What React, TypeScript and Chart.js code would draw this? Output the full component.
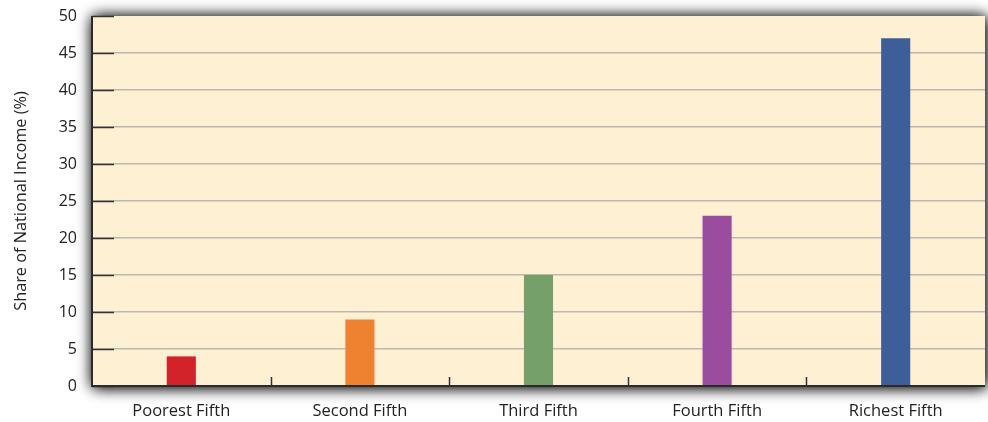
import React, { useEffect, useRef } from "react";
import { Chart, registerables } from "chart.js";

Chart.register(...registerables);

const categories = ["Poorest Fifth", "Second Fifth", "Third Fifth", "Fourth Fifth", "Richest Fifth"];
const shares = [4, 9, 15, 23, 47];
const barColors = ["#D2232A", "#EF8231", "#76A06A", "#9A4C9F", "#3D5E98"];
const yTitle = "Share of National Income (%)";

const FONT = "'Open Sans', sans-serif";

const framePlugin = {
  id: "frame",
  beforeDraw(chart: any) {
    const { ctx, chartArea: a } = chart;
    ctx.save();
    ctx.shadowColor = "rgba(0,0,0,0.8)";
    ctx.shadowBlur = 14;
    ctx.shadowOffsetX = 1;
    ctx.shadowOffsetY = 1;
    ctx.fillStyle = "#FEF0D3";
    ctx.fillRect(a.left, a.top, a.right - a.left, a.bottom - a.top);
    ctx.fillRect(a.left, a.top, a.right - a.left, a.bottom - a.top);
    ctx.restore();
  },
  afterDatasetsDraw(chart: any) {
    const { ctx, chartArea: a, scales } = chart;
    const y = scales.y;
    ctx.save();
    ctx.strokeStyle = "#333";
    ctx.lineWidth = 1.5;
    y.ticks.forEach((t: any) => {
      const py = Math.round(y.getPixelForValue(t.value)) + 0.5;
      ctx.beginPath();
      ctx.moveTo(a.left, py);
      ctx.lineTo(a.left + 22, py);
      ctx.stroke();
    });
    const n = categories.length;
    const w = (a.right - a.left) / n;
    for (let i = 1; i < n; i++) {
      const px = Math.round(a.left + w * i) + 0.5;
      ctx.beginPath();
      ctx.moveTo(px, a.bottom);
      ctx.lineTo(px, a.bottom - 9);
      ctx.stroke();
    }
    ctx.lineWidth = 2;
    ctx.strokeStyle = "#2a2a2a";
    ctx.beginPath();
    ctx.moveTo(a.left, a.top);
    ctx.lineTo(a.left, a.bottom);
    ctx.lineTo(a.right, a.bottom);
    ctx.stroke();
    ctx.restore();
  },
};

export default function App() {
  const ref = useRef<HTMLCanvasElement>(null);
  useEffect(() => {
    if (!ref.current) return;
    const chart = new Chart(ref.current, {
      type: "bar",
      data: {
        labels: categories,
        datasets: [
          {
            data: shares,
            backgroundColor: barColors,
            categoryPercentage: 1,
            barPercentage: 0.163,
          },
        ],
      },
      options: {
        animation: false,
        responsive: false,
        maintainAspectRatio: false,
        layout: { padding: { left: 0, top: 16, right: 3, bottom: 0 } },
        plugins: { legend: { display: false }, tooltip: { enabled: false } },
        scales: {
          x: {
            grid: { display: false, drawTicks: false },
            border: { display: false },
            ticks: { color: "#222", font: { family: FONT, size: 16.5 }, padding: 15 },
            afterFit: (s: any) => {
              s.height = 36;
              s.paddingLeft = 0;
              s.paddingRight = 0;
            },
          },
          y: {
            min: 0,
            max: 50,
            ticks: { stepSize: 5, color: "#222", font: { family: FONT, size: 16 }, padding: 15 },
            grid: {
              drawTicks: false,
              color: (c: any) => (c.tick && (c.tick.value === 0 || c.tick.value === 50) ? "rgba(0,0,0,0)" : "#BDB8AE"),
              lineWidth: 1.5,
            },
            border: { display: false },
            title: { display: true, text: yTitle, color: "#222", font: { family: FONT, size: 16.3 }, padding: { top: 12, bottom: 0 } },
            afterFit: (s: any) => {
              s.width = 92;
              s.paddingTop = 0;
              s.paddingBottom = 0;
            },
          },
        },
      },
      plugins: [framePlugin],
    });
    return () => chart.destroy();
  }, []);
  return (
    <div style={{ position: "fixed", left: 0, top: 0, width: 988, height: 422, background: "#fff" }}>
      <canvas ref={ref} width={988} height={422} style={{ width: 988, height: 422 }} />
    </div>
  );
}
